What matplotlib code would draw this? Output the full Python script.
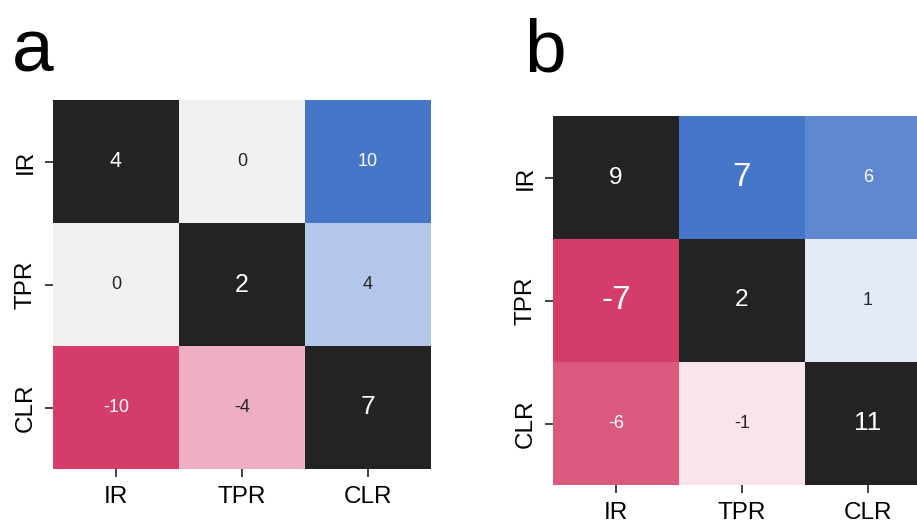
import numpy as np
import matplotlib
matplotlib.use("Agg")
import matplotlib.pyplot as plt
from matplotlib.colors import ListedColormap, LinearSegmentedColormap, to_rgb
import seaborn as sns

labels = ["IR", "TPR", "CLR"]

vals_a = np.array([[4, 0, 10],
                   [0, 2, 4],
                   [-10, -4, 7]])
vals_b = np.array([[9, 7, 6],
                   [-7, 2, 1],
                   [-6, -1, 11]])

# per-cell annotation sizes (pt)
sizes_a = [[15.5, 13, 13], [13, 18, 13], [13, 13, 19]]
sizes_b = [[17.5, 24, 13], [24, 17.5, 13], [13, 13, 19]]

plt.rcParams['font.family'] = ['Liberation Sans', 'DejaVu Sans']

# red - light grey - blue, anchors
cmap = LinearSegmentedColormap.from_list("rb", [
    (0.0, "#d43d69"), (0.07, "#db587e"), (0.3, "#efb0c3"), (0.43, "#fae5ec"),
    (0.5, "#f1f1f1"),
    (0.57, "#e5ecf7"), (0.7, "#b5c8ea"), (0.93, "#6088d0"), (1.0, "#4676c8")])
diag_color = "#232323"


def lum(c):
    rgb = np.array(to_rgb(c))
    rgb = np.where(rgb <= .03928, rgb / 12.92, ((rgb + .055) / 1.055) ** 2.4)
    return rgb.dot([.2126, .7152, .0722])


def draw(ax, vals, sizes):
    eye = np.eye(len(vals), dtype=bool)
    lim = np.abs(vals[~eye]).max()
    sns.heatmap(vals, mask=eye, cmap=cmap, vmin=-lim, vmax=lim, cbar=False, ax=ax,
                xticklabels=labels, yticklabels=labels)
    sns.heatmap(vals, mask=~eye, cmap=ListedColormap([diag_color]), cbar=False, ax=ax,
                xticklabels=labels, yticklabels=labels)
    for i in range(len(vals)):
        for j in range(len(vals)):
            if i == j:
                c = diag_color
            else:
                c = cmap((vals[i, j] + lim) / (2 * lim))
            tc = ".15" if lum(c) > .408 else "w"
            ax.text(j + .5, i + .5, str(vals[i, j]), ha="center", va="center",
                    color=tc, fontsize=sizes[i][j])
    ax.tick_params(axis="both", length=6, width=1.2, labelsize=17.5, color="#222222", pad=6)
    plt.setp(ax.get_yticklabels(), rotation=90, va="center")
    plt.setp(ax.get_xticklabels(), rotation=0)


fig = plt.figure(figsize=(9.17, 5.31), dpi=100)
ax_a = fig.add_axes([53 / 917, 1 - 469 / 531, 378 / 917, 369 / 531])
ax_b = fig.add_axes([553 / 917, 1 - 485 / 531, 378 / 917, 369 / 531])

draw(ax_a, vals_a, sizes_a)
draw(ax_b, vals_b, sizes_b)

fig.text(12 / 917, 1 - 72 / 531, "a", fontsize=54, va="baseline", ha="left")
fig.text(524 / 917, 1 - 72 / 531, "b", fontsize=54, va="baseline", ha="left")

fig.savefig("out.png", dpi=100)
